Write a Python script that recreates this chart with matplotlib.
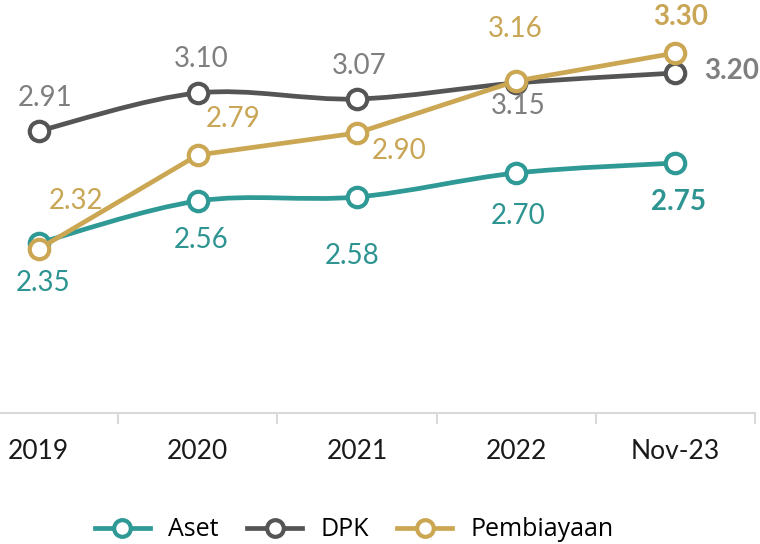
import matplotlib
matplotlib.use("Agg")
import matplotlib.pyplot as plt
import numpy as np
from matplotlib.path import Path
from matplotlib.patches import PathPatch
from matplotlib.lines import Line2D

plt.rcParams['font.family'] = ['Lato', 'DejaVu Sans']

categories = ['2019', '2020', '2021', '2022', 'Nov-23']
aset = [2.35, 2.56, 2.58, 2.70, 2.75]
dpk = [2.91, 3.10, 3.07, 3.15, 3.20]
pembiayaan = [2.32, 2.79, 2.90, 3.16, 3.30]

teal = '#2E9995'
gray = '#555555'
gold = '#CBA754'
teal_txt = '#2E9491'
gray_txt = '#7F7F7F'
gold_txt = '#C9A655'


def smooth_path(xs, ys):
    # Excel-style smoothed line: cubic bezier segments
    pts = np.column_stack([xs, ys]).astype(float)
    n = len(pts)
    verts = [pts[0]]
    codes = [Path.MOVETO]
    for i in range(n - 1):
        p0 = pts[i - 1] if i > 0 else pts[i]
        p1 = pts[i]
        p2 = pts[i + 1]
        p3 = pts[i + 2] if i + 2 < n else pts[i + 1]
        c1 = p1 + (p2 - p0) / 6.0
        c2 = p2 - (p3 - p1) / 6.0
        verts += [c1, c2, p2]
        codes += [Path.CURVE4] * 3
    return Path(verts, codes)


fig = plt.figure(figsize=(7.6, 5.44), dpi=100)
ax = fig.add_axes([-41 / 760, 131 / 544, 796 / 760, 400 / 544])
ax.set_xlim(-0.5, 4.5)
ax.set_ylim(1.5, 3.5)

x = np.arange(len(categories))
lw = 3.4
msize = 14
mew = 3.0

# Aset (smooth)
ax.add_patch(PathPatch(smooth_path(x, aset), facecolor='none', edgecolor=teal,
                       lw=lw, capstyle='round', zorder=2))
ax.plot(x, aset, ls='none', marker='o', ms=msize, mfc='white', mec=teal, mew=mew, zorder=3)

# DPK (smooth)
ax.add_patch(PathPatch(smooth_path(x, dpk), facecolor='none', edgecolor=gray,
                       lw=lw, capstyle='round', zorder=4))
ax.plot(x, dpk, ls='none', marker='o', ms=msize, mfc='white', mec=gray, mew=mew, zorder=5)

# Pembiayaan (straight)
ax.plot(x, pembiayaan, color=gold, lw=lw, marker='o', ms=msize, mfc='white',
        mec=gold, mew=mew, zorder=6, solid_capstyle='round')

fs = 20
# label offsets in pixels (dx, dy), y up
aset_off = [(4, -40), (3, -39), (-5, -59), (2, -43), (3, -39)]
dpk_off = [(7, 33), (3, 34), (2, 33), (2, -23), (56, 2)]
pemb_off = [(37, 48), (35, 36), (42, -18), (-1, 52), (5, 36)]

for vals, offs, col in [(aset, aset_off, teal_txt), (dpk, dpk_off, gray_txt),
                        (pembiayaan, pemb_off, gold_txt)]:
    for i, v in enumerate(vals):
        dx, dy = offs[i]
        ax.annotate(f'{v:.2f}', (x[i], v), xytext=(dx, dy), textcoords='offset pixels',
                    ha='center', va='center', fontsize=fs, color=col,
                    fontweight='bold' if i == len(vals) - 1 else 'normal', zorder=10)

# axes styling: category axis with ticks between categories
for s in ['top', 'right', 'left']:
    ax.spines[s].set_visible(False)
ax.spines['bottom'].set_color('#D9D9D9')
ax.spines['bottom'].set_linewidth(1.5)
ax.set_yticks([])
ax.set_xticks(x)
ax.set_xticklabels(categories, fontsize=19, color='#1a1a1a')
ax.tick_params(axis='x', which='major', length=0, pad=19)
ax.set_xticks(np.arange(-0.5, 5.0, 1.0), minor=True)
ax.tick_params(axis='x', which='minor', length=8, width=1.5, color='#D9D9D9', direction='out')

handles = [
    Line2D([], [], color=teal, lw=lw, marker='o', ms=12, mfc='white', mec=teal, mew=mew),
    Line2D([], [], color=gray, lw=lw, marker='o', ms=12, mfc='white', mec=gray, mew=mew),
    Line2D([], [], color=gold, lw=lw, marker='o', ms=12, mfc='white', mec=gold, mew=mew),
]
fig.legend(handles, ['Aset', 'DPK', 'Pembiayaan'], loc='center', bbox_to_anchor=(0.466, 0.026),
           ncol=3, frameon=False, handlelength=2.2, columnspacing=1.15,
           handletextpad=0.72, prop={'family': ['Open Sans', 'DejaVu Sans'], 'size': 18})

fig.savefig('out.png', dpi=100)
